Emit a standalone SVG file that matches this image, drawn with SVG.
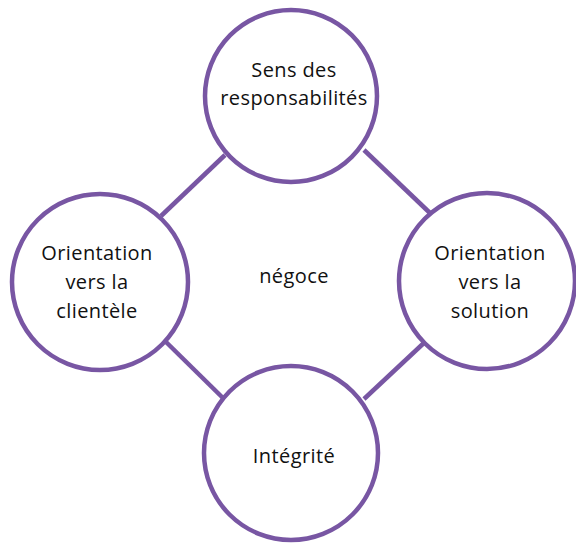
<svg xmlns="http://www.w3.org/2000/svg" width="576" height="543" viewBox="0 0 576 543">
<style>
.c{fill:#fff;stroke:#7856a3;stroke-width:4.5}
.l{stroke:#7856a3;stroke-width:4.5;fill:none}
text{font-family:"Open Sans","Liberation Sans",sans-serif;font-size:20px;letter-spacing:0.4px;fill:#111;text-anchor:middle}
</style>
<rect width="576" height="543" fill="#fff"/>
<g id="connectors">
<line class="l" x1="225" y1="155" x2="161" y2="216"/>
<line class="l" x1="364" y1="150" x2="430" y2="213"/>
<line class="l" x1="165" y1="341" x2="224" y2="399"/>
<line class="l" x1="364" y1="399" x2="426" y2="341"/>
</g>
<g id="center"><text x="294" y="283">négoce</text></g>
<g id="top"><circle class="c" cx="291" cy="96" r="86"/><text x="294" y="77">Sens des</text><text x="294" y="105">responsabilités</text></g>
<g id="left"><circle class="c" cx="100" cy="282" r="88"/><text x="97" y="260">Orientation</text><text x="97" y="289">vers la</text><text x="97" y="318">clientèle</text></g>
<g id="right"><circle class="c" cx="487" cy="281" r="88"/><text x="490" y="260">Orientation</text><text x="490" y="289">vers la</text><text x="490" y="318">solution</text></g>
<g id="bottom"><circle class="c" cx="291" cy="453" r="87"/><text x="294" y="463">Intégrité</text></g>
</svg>
